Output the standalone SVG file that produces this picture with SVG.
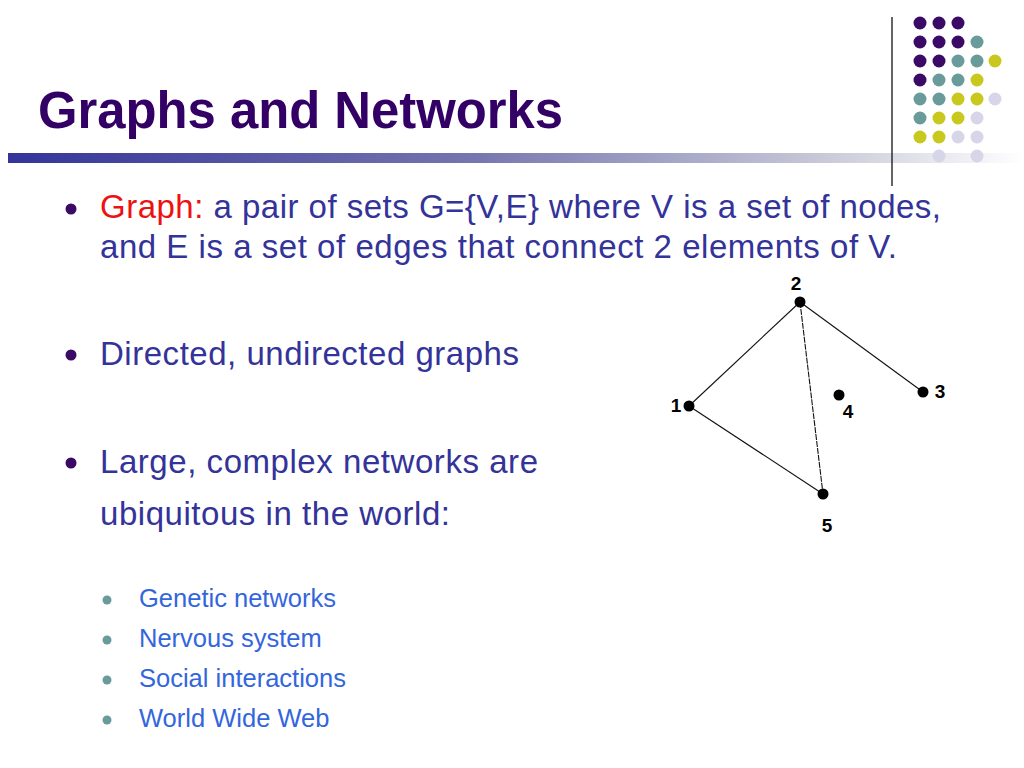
<svg xmlns="http://www.w3.org/2000/svg" width="1024" height="768" viewBox="0 0 1024 768">
<defs>
<linearGradient id="bar" x1="0" y1="0" x2="1" y2="0">
<stop offset="0" stop-color="#34349a"/>
<stop offset="0.45" stop-color="#7474ae"/>
<stop offset="0.8" stop-color="#c8c8d8"/>
<stop offset="1" stop-color="#ffffff"/>
</linearGradient>
<style>
.t{font-family:"Liberation Sans",Arial,sans-serif}
.title{font-size:51px;font-weight:bold;fill:#330066}
.body{font-size:33px;fill:#333399}
.red{fill:#ee1111}
.sub{font-size:25.5px;fill:#3366dd}
.pu{fill:#3a0a66}
.te{fill:#6a9b9b}
.ye{fill:#c8c81e}
.la{fill:#d6d6e8}
.node{fill:#000}
.lbl{font-size:19px;font-weight:bold;fill:#000}
.edge{stroke:#111;stroke-width:1.1;fill:none}
</style>
</defs>
<rect width="1024" height="768" fill="#ffffff"/>
<g id="decor">
<rect x="8" y="153" width="1016" height="10" fill="url(#bar)"/>
<line x1="892" y1="17" x2="892" y2="186" stroke="#111" stroke-width="1.3"/>
<g id="dots">
<circle class="pu" cx="920" cy="23" r="6.5"/><circle class="pu" cx="939" cy="23" r="6.5"/><circle class="pu" cx="958" cy="23" r="6.5"/>
<circle class="pu" cx="920" cy="42" r="6.5"/><circle class="pu" cx="939" cy="42" r="6.5"/><circle class="pu" cx="958" cy="42" r="6.5"/><circle class="te" cx="977" cy="42" r="6.5"/>
<circle class="pu" cx="920" cy="61" r="6.5"/><circle class="pu" cx="939" cy="61" r="6.5"/><circle class="te" cx="958" cy="61" r="6.5"/><circle class="te" cx="977" cy="61" r="6.5"/><circle class="ye" cx="995" cy="61" r="6.5"/>
<circle class="pu" cx="920" cy="80" r="6.5"/><circle class="te" cx="939" cy="80" r="6.5"/><circle class="te" cx="958" cy="80" r="6.5"/><circle class="ye" cx="977" cy="80" r="6.5"/>
<circle class="te" cx="920" cy="99" r="6.5"/><circle class="te" cx="939" cy="99" r="6.5"/><circle class="ye" cx="958" cy="99" r="6.5"/><circle class="ye" cx="977" cy="99" r="6.5"/><circle class="la" cx="995" cy="99" r="6.5"/>
<circle class="te" cx="920" cy="118" r="6.5"/><circle class="ye" cx="939" cy="118" r="6.5"/><circle class="ye" cx="958" cy="118" r="6.5"/><circle class="la" cx="977" cy="118" r="6.5"/>
<circle class="ye" cx="920" cy="137" r="6.5"/><circle class="ye" cx="939" cy="137" r="6.5"/><circle class="la" cx="958" cy="137" r="6.5"/><circle class="la" cx="977" cy="137" r="6.5"/>
<circle class="la" cx="939" cy="156" r="6.5"/><circle class="la" cx="977" cy="156" r="6.5"/>
</g>
</g>
<text id="title" class="t title" x="38" y="128" textLength="525" lengthAdjust="spacingAndGlyphs">Graphs and Networks</text>
<g id="bullets">
<circle class="pu" cx="71" cy="209" r="5.5"/>
<text class="t body" x="100" y="218" textLength="841"><tspan class="red">Graph:</tspan> a pair of sets G={V,E} where V is a set of nodes,</text>
<text class="t body" x="100" y="258" textLength="797">and E is a set of edges that connect 2 elements of V.</text>
<circle class="pu" cx="71" cy="355" r="5.5"/>
<text class="t body" x="100" y="365" textLength="419">Directed, undirected graphs</text>
<circle class="pu" cx="71" cy="463" r="5.5"/>
<text class="t body" x="100" y="473" textLength="438">Large, complex networks are</text>
<text class="t body" x="100" y="525" textLength="350">ubiquitous in the world:</text>
</g>
<g id="subbullets">
<circle class="te" cx="107" cy="600" r="4.5"/><text class="t sub" x="139" y="607">Genetic networks</text>
<circle class="te" cx="107" cy="640" r="4.5"/><text class="t sub" x="139" y="647">Nervous system</text>
<circle class="te" cx="107" cy="680" r="4.5"/><text class="t sub" x="139" y="687">Social interactions</text>
<circle class="te" cx="107" cy="720" r="4.5"/><text class="t sub" x="139" y="727">World Wide Web</text>
</g>
<g id="edges">
<line class="edge" x1="800" y1="302" x2="689" y2="406"/>
<line class="edge" x1="689" y1="406" x2="823" y2="494"/>
<line class="edge" x1="800" y1="302" x2="923" y2="392"/>
<line class="edge" x1="800" y1="302" x2="823" y2="494" stroke-dasharray="6 1"/>
</g>
<g id="n1"><circle class="node" cx="689" cy="406" r="5.5"/><text class="t lbl" x="676" y="412" text-anchor="middle">1</text></g>
<g id="n2"><circle class="node" cx="800" cy="302" r="5.5"/><text class="t lbl" x="796" y="290" text-anchor="middle">2</text></g>
<g id="n3"><circle class="node" cx="923" cy="392" r="5.5"/><text class="t lbl" x="940" y="398" text-anchor="middle">3</text></g>
<g id="n4"><circle class="node" cx="839" cy="395" r="5.5"/><text class="t lbl" x="848" y="418" text-anchor="middle">4</text></g>
<g id="n5"><circle class="node" cx="823" cy="494" r="5.5"/><text class="t lbl" x="827" y="532" text-anchor="middle">5</text></g>
</svg>
